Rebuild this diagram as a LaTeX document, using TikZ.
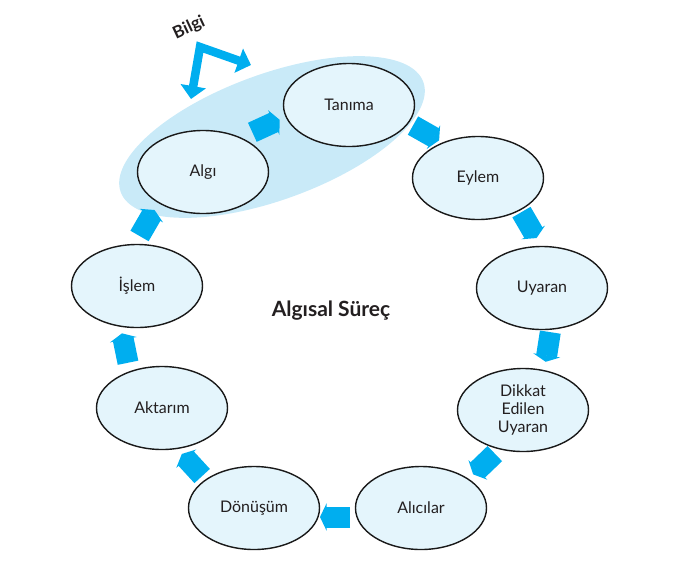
\documentclass[tikz,border=0pt]{standalone}
\usepackage{fontspec}
\setsansfont{Lato}
\usetikzlibrary{shapes.geometric, arrows.meta, calc}

\definecolor{flowblue}{RGB}{0,174,239}
\definecolor{hazeblue}{RGB}{201,234,248}
\definecolor{stagefill}{RGB}{228,245,252}
\definecolor{inkgray}{RGB}{35,31,32}

% block arrow from stage #1 towards stage #2: starts #3, ends #4 along the line, #5 outwards
\newcommand{\flowarrow}[5]{%
	\draw[flow] ($(#1)!0.5!(#2)!#3pt!(#2)!#5pt!90:(#2)$) -- ($(#1)!0.5!(#2)!#4pt!(#2)!#5pt!90:(#2)$);}

\begin{document}
\begin{tikzpicture}[
		x=1pt, y=-1pt,
		font=\sffamily,
		% Style for the stages of the cycle
		stage/.style={ellipse, draw=black!90, line width=1.4pt, fill=stagefill,
			minimum width=131pt, minimum height=83pt, inner sep=0pt,
			align=center, text=inkgray, font=\sffamily\fontsize{16}{18}\selectfont},
		% Style for the block arrows between stages
		flow/.style={draw=flowblue, line width=21pt, -{Triangle[width=27pt, length=6.5pt]}},
		% Highlight behind Algi and Tanima
		haze/.style={ellipse, fill=hazeblue, draw=none, minimum width=322pt, minimum height=126pt},
		% Bent double arrow for the incoming information
		info arrow/.style={draw=flowblue, line width=8.5pt, line join=miter,
			>={Triangle[width=25pt, length=13pt]}, <->},
		% Title & Text
		mainTitle/.style={font=\sffamily\bfseries\fontsize{21}{24}\selectfont, text=inkgray},
		info label/.style={font=\sffamily\bfseries\fontsize{17}{20}\selectfont, text=inkgray}
		]
		\useasboundingbox (0,0) rectangle (679,571);
		
		% highlight first, so it stays behind
		\node[haze, rotate=20] (haze) at (272,137) {};
		
		% STAGES
		\node[stage] (algi) at (203,172) {Algı};
		\node[stage] (tanima) at (349,105) {Tanıma};
		\node[stage] (eylem) at (478,178) {Eylem};
		\node[stage] (uyaran) at (542,288) {Uyaran};
		\node[stage] (dikkat) at (523,410) {Dikkat\\Edilen\\Uyaran};
		\node[stage] (alicilar) at (421,508) {Alıcılar};
		\node[stage] (donusum) at (254,508) {Dönüşüm};
		\node[stage] (aktarim) at (162,408) {Aktarım};
		\node[stage] (islem) at (137,286) {İşlem};
		
		\node[mainTitle] (title) at (331,311) {Algısal Süreç};
		
		% ARROWS between the stages
		\flowarrow{algi}{tanima}{-18.9}{11.1}{15.5}
		\flowarrow{tanima}{eylem}{-8.3}{21.7}{13.6}
		\flowarrow{eylem}{uyaran}{-12.3}{17.7}{20.4}
		\flowarrow{uyaran}{dikkat}{-19.4}{10.6}{15}
		\flowarrow{dikkat}{alicilar}{-20.2}{9.8}{11.9}
		\flowarrow{alicilar}{donusum}{-12.5}{17.5}{9}
		\flowarrow{donusum}{aktarim}{-9.3}{20.7}{16.5}
		\flowarrow{aktarim}{islem}{-11.1}{18.9}{24.2}
		\flowarrow{islem}{algi}{-21.3}{8.7}{22.9}
		
		% INFORMATION coming in
		\coordinate (bilgi corner) at (200,47);
		\coordinate (bilgi down) at (191,99);
		\coordinate (bilgi right) at (251,65);
		\draw[info arrow] (bilgi down) -- (bilgi corner) -- (bilgi right);
		\node[info label, rotate=25] (bilgi) at (189,28) {Bilgi};
	\end{tikzpicture}
\end{document}
